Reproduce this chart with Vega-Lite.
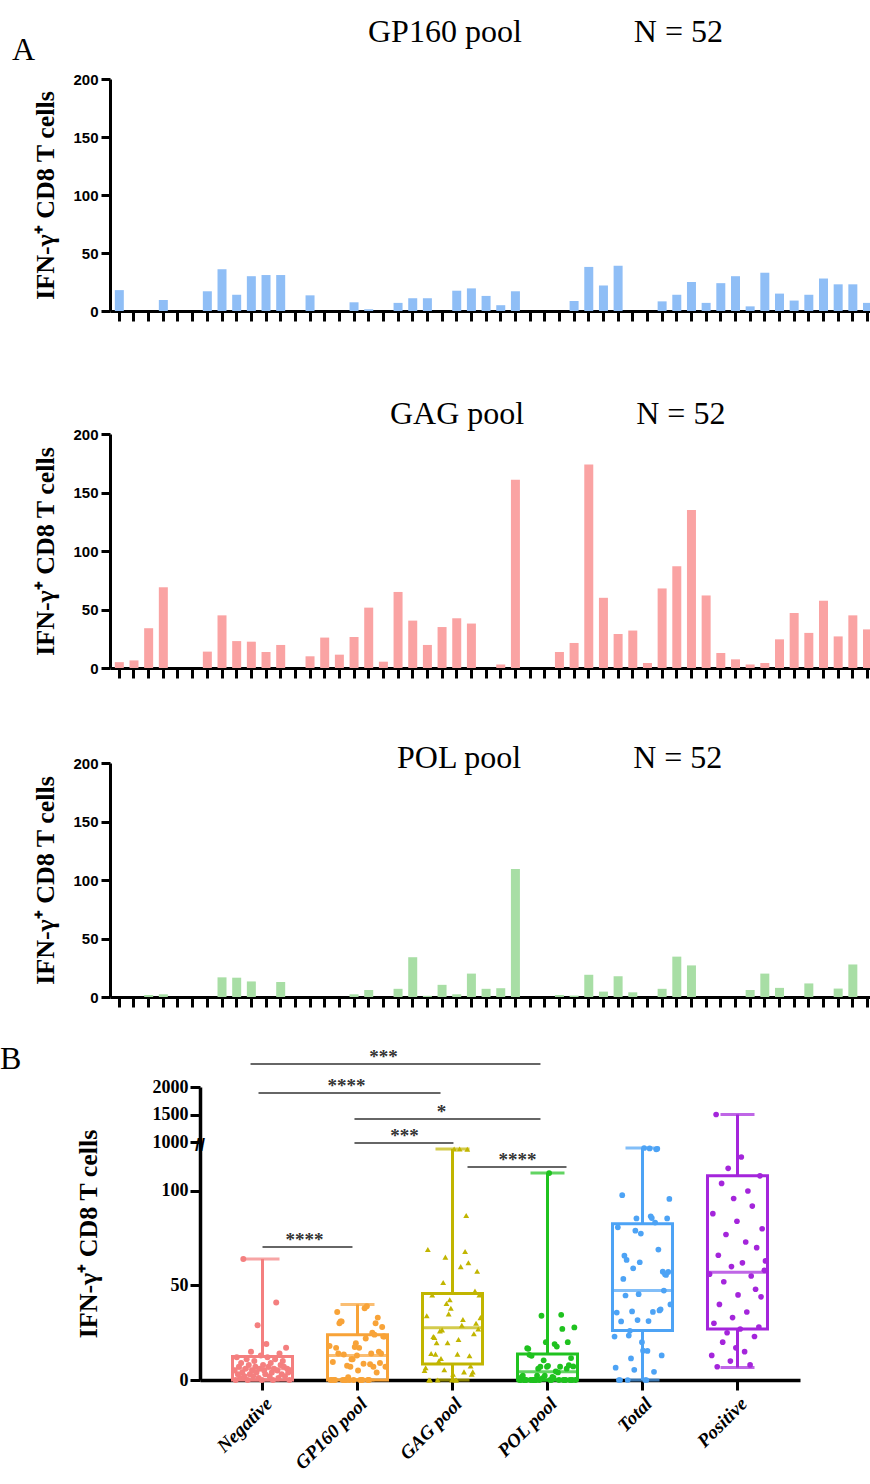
{
"$schema": "https://vega.github.io/schema/vega-lite/v6.json",
"padding": 0,
"background": "white",
"title": {"text": "A", "anchor": "start", "frame": "bounds", "dx": 12, "offset": -92, "baseline": "alphabetic", "font": "Liberation Serif", "fontSize": 32, "fontWeight": "normal", "color": "black"},
"datasets": {
"wide": [
{"id":1,"Negative":5,"GP160 pool":18,"GAG pool":5,"POL pool":0,"Total":23,"Positive":56},
{"id":2,"Negative":0,"GP160 pool":0,"GAG pool":6.5,"POL pool":0,"Total":6.5},
{"id":3,"Negative":12,"GP160 pool":0,"GAG pool":34,"POL pool":1.7,"Total":35.7,"Positive":13},
{"id":4,"Negative":3,"GP160 pool":9.5,"GAG pool":69,"POL pool":2.3,"Total":80.8,"Positive":88},
{"id":5,"Negative":7,"GP160 pool":0,"GAG pool":0,"POL pool":0,"Total":0,"Positive":30},
{"id":6,"Negative":1,"GP160 pool":0,"GAG pool":0,"POL pool":0,"Total":0},
{"id":7,"Negative":9,"GP160 pool":17,"GAG pool":14,"POL pool":0,"Total":31,"Positive":1500},
{"id":8,"Negative":4,"GP160 pool":36,"GAG pool":45,"POL pool":16.8,"Total":97.8,"Positive":7},
{"id":9,"Negative":64,"GP160 pool":14,"GAG pool":23,"POL pool":16.5,"Total":53.5,"Positive":66},
{"id":10,"Negative":2,"GP160 pool":30,"GAG pool":22.5,"POL pool":13.3,"Total":65.8,"Positive":40},
{"id":11,"Negative":6,"GP160 pool":31,"GAG pool":13.7,"POL pool":0,"Total":44.7},
{"id":12,"Negative":11,"GP160 pool":31,"GAG pool":19.7,"POL pool":12.8,"Total":63.5,"Positive":104},
{"id":13,"Negative":0,"GP160 pool":0,"GAG pool":0,"POL pool":0,"Total":0,"Positive":20},
{"id":14,"Negative":8,"GP160 pool":13.5,"GAG pool":10,"POL pool":0,"Total":23.5,"Positive":52},
{"id":15,"Negative":3,"GP160 pool":0,"GAG pool":26,"POL pool":0,"Total":26},
{"id":16,"Negative":15,"GP160 pool":0,"GAG pool":11.4,"POL pool":0,"Total":11.4,"Positive":77},
{"id":17,"Negative":5,"GP160 pool":7.5,"GAG pool":26.5,"POL pool":2.3,"Total":36.3,"Positive":25},
{"id":18,"Negative":2,"GP160 pool":1.5,"GAG pool":51.6,"POL pool":6,"Total":59.1,"Positive":112},
{"id":19,"Negative":10,"GP160 pool":0,"GAG pool":5.4,"POL pool":0,"Total":5.4},
{"id":20,"Negative":7,"GP160 pool":7,"GAG pool":65,"POL pool":7,"Total":79,"Positive":10},
{"id":21,"Negative":4,"GP160 pool":11,"GAG pool":40.5,"POL pool":34,"Total":85.5,"Positive":60},
{"id":22,"Negative":29,"GP160 pool":11,"GAG pool":19.7,"POL pool":1,"Total":31.7,"Positive":33},
{"id":23,"Negative":1,"GP160 pool":0,"GAG pool":35,"POL pool":10.4,"Total":45.4,"Positive":96},
{"id":24,"Negative":6,"GP160 pool":17.5,"GAG pool":42.5,"POL pool":2.3,"Total":62.3},
{"id":25,"Negative":13,"GP160 pool":19.5,"GAG pool":38,"POL pool":20,"Total":77.5,"Positive":17},
{"id":26,"Negative":0,"GP160 pool":13,"GAG pool":0,"POL pool":7,"Total":20,"Positive":84},
{"id":27,"Negative":8,"GP160 pool":5,"GAG pool":3,"POL pool":7.5,"Total":15.5,"Positive":45},
{"id":28,"Negative":5,"GP160 pool":17,"GAG pool":161,"POL pool":109.5,"Total":287.5},
{"id":29,"Negative":3,"GP160 pool":0,"GAG pool":0,"POL pool":0,"Total":0,"Positive":27},
{"id":30,"Negative":19,"GP160 pool":0,"GAG pool":0,"POL pool":0,"Total":0,"Positive":118},
{"id":31,"Negative":12,"GP160 pool":0,"GAG pool":13.7,"POL pool":1.7,"Total":15.4,"Positive":62},
{"id":32,"Negative":7,"GP160 pool":8.6,"GAG pool":21.4,"POL pool":1.2,"Total":31.2},
{"id":33,"Negative":2,"GP160 pool":38,"GAG pool":174,"POL pool":19,"Total":231,"Positive":15},
{"id":34,"Negative":9,"GP160 pool":22,"GAG pool":60,"POL pool":4.6,"Total":86.6,"Positive":73},
{"id":35,"Negative":4,"GP160 pool":39,"GAG pool":29,"POL pool":17.7,"Total":85.7,"Positive":36},
{"id":36,"Negative":0,"GP160 pool":0,"GAG pool":32,"POL pool":4,"Total":36,"Positive":100},
{"id":37,"Negative":6,"GP160 pool":0,"GAG pool":4.3,"POL pool":0,"Total":4.3},
{"id":38,"Negative":11,"GP160 pool":8.3,"GAG pool":68,"POL pool":7,"Total":83.3,"Positive":8},
{"id":39,"Negative":41,"GP160 pool":14,"GAG pool":87,"POL pool":34.5,"Total":135.5,"Positive":55},
{"id":40,"Negative":5,"GP160 pool":25,"GAG pool":135,"POL pool":27,"Total":187,"Positive":92},
{"id":41,"Negative":1,"GP160 pool":7,"GAG pool":62,"POL pool":0,"Total":69},
{"id":42,"Negative":14,"GP160 pool":24,"GAG pool":12.8,"POL pool":0,"Total":36.8,"Positive":23},
{"id":43,"Negative":8,"GP160 pool":30,"GAG pool":7.4,"POL pool":0,"Total":37.4,"Positive":48},
{"id":44,"Negative":3,"GP160 pool":4,"GAG pool":3,"POL pool":6,"Total":13,"Positive":70},
{"id":45,"Negative":10,"GP160 pool":33,"GAG pool":4.3,"POL pool":20,"Total":57.3},
{"id":46,"Negative":7,"GP160 pool":15,"GAG pool":24.5,"POL pool":7.8,"Total":47.3,"Positive":28},
{"id":47,"Negative":2,"GP160 pool":9,"GAG pool":47,"POL pool":0,"Total":56,"Positive":108},
{"id":48,"Negative":17,"GP160 pool":14,"GAG pool":30,"POL pool":11.6,"Total":55.6,"Positive":44},
{"id":49,"Negative":6,"GP160 pool":28,"GAG pool":57.5,"POL pool":0,"Total":85.5,"Positive":80},
{"id":50,"Negative":4,"GP160 pool":23,"GAG pool":27,"POL pool":7.2,"Total":57.2},
{"id":51,"Negative":0,"GP160 pool":23,"GAG pool":45,"POL pool":27.8,"Total":95.8,"Positive":58},
{"id":52,"Negative":5,"GP160 pool":7,"GAG pool":33,"POL pool":0,"Total":40,"Positive":63}
],
"box": [
{"g":"Negative","lo":0,"q1":0,"med":6,"q3":12.4,"hi":64},
{"g":"GP160 pool","lo":0,"q1":0,"med":13,"q3":24,"hi":40},
{"g":"GAG pool","lo":0,"q1":8.5,"med":27.7,"q3":45.7,"hi":174},
{"g":"POL pool","lo":0,"q1":0,"med":4.4,"q3":13.8,"hi":109.5},
{"g":"Total","lo":0,"q1":26.2,"med":47.3,"q3":82.6,"hi":287.5},
{"g":"Positive","lo":6.6,"q1":27,"med":57,"q3":108,"hi":1500}
],
"sig": [
{"a":-0.126,"b":2.926,"y":2418,"m":1.274,"t":"***"},
{"a":-0.042,"b":1.874,"y":1891,"m":0.884,"t":"****"},
{"a":0.968,"b":2.926,"y":1418,"m":1.884,"t":"*"},
{"a":0.968,"b":2.01,"y":881,"m":1.495,"t":"***"},
{"a":2.158,"b":3.2,"y":112.7,"m":2.684,"t":"****"},
{"a":0,"b":0.947,"y":70.4,"m":0.442,"t":"****"}
]
},
"data": {"name": "wide"},
"spacing": 20,
"bounds": "flush",
"center": true,
"vconcat": [
{
"width": 780, "height": 311,
"title": {"text": "GP160 pool\u2003\u2003\u2003\u2002N = 52", "anchor": "start", "frame": "group", "dx": 258, "offset": -74, "baseline": "alphabetic", "font": "Liberation Serif", "fontSize": 32, "fontWeight": "normal", "color": "black"},
"mark": {"type": "bar", "color": "#8FBEF6", "width": 9},
"encoding": {
"x": {"field": "id", "type": "ordinal", "scale": {"paddingInner": 0.38, "paddingOuter": 0.774, "align": 0.21}, "axis": {"labels": false, "title": null, "tickSize": 10}},
"y": {"field": "GP160 pool", "type": "quantitative", "scale": {"domain": [0, 200], "range": [311, 79], "nice": false}, "axis": {"values": [0, 50, 100, 150, 200], "title": "IFN-\u03b3\u207a CD8 T cells", "titleFont": "Liberation Serif", "titleFontSize": 26, "titleFontWeight": "bold", "titlePadding": 14, "labelFont": "Liberation Sans", "labelFontSize": 15, "labelFontWeight": "bold", "tickSize": 9, "labelPadding": 3}}
}
},
{
"width": 780, "height": 337,
"title": {"text": "GAG pool\u2003\u2003\u2003\u2002N = 52", "anchor": "start", "frame": "group", "dx": 280, "offset": -125, "baseline": "alphabetic", "font": "Liberation Serif", "fontSize": 32, "fontWeight": "normal", "color": "black"},
"mark": {"type": "bar", "color": "#FAA3A3", "width": 9},
"encoding": {
"x": {"field": "id", "type": "ordinal", "scale": {"paddingInner": 0.38, "paddingOuter": 0.774, "align": 0.21}, "axis": {"labels": false, "title": null, "tickSize": 10}},
"y": {"field": "GAG pool", "type": "quantitative", "scale": {"domain": [0, 200], "range": [337, 103], "nice": false}, "axis": {"values": [0, 50, 100, 150, 200], "title": "IFN-\u03b3\u207a CD8 T cells", "titleFont": "Liberation Serif", "titleFontSize": 26, "titleFontWeight": "bold", "titlePadding": 14, "labelFont": "Liberation Sans", "labelFontSize": 15, "labelFontWeight": "bold", "tickSize": 9, "labelPadding": 3}}
}
},
{
"width": 780, "height": 309,
"title": {"text": "POL pool\u2003\u2003\u2003\u2002N = 52", "anchor": "start", "frame": "group", "dx": 287, "offset": -112, "baseline": "alphabetic", "font": "Liberation Serif", "fontSize": 32, "fontWeight": "normal", "color": "black"},
"mark": {"type": "bar", "color": "#A8DEA5", "width": 9},
"encoding": {
"x": {"field": "id", "type": "ordinal", "scale": {"paddingInner": 0.38, "paddingOuter": 0.774, "align": 0.21}, "axis": {"labels": false, "title": null, "tickSize": 10}},
"y": {"field": "POL pool", "type": "quantitative", "scale": {"domain": [0, 200], "range": [309, 75], "nice": false}, "axis": {"values": [0, 50, 100, 150, 200], "title": "IFN-\u03b3\u207a CD8 T cells", "titleFont": "Liberation Serif", "titleFontSize": 26, "titleFontWeight": "bold", "titlePadding": 14, "labelFont": "Liberation Sans", "labelFontSize": 15, "labelFontWeight": "bold", "tickSize": 9, "labelPadding": 3}}
}
},
{
"width": 600, "height": 363,
"title": {"text": "B", "anchor": "start", "frame": "group", "dx": -200, "offset": -84, "baseline": "alphabetic", "font": "Liberation Serif", "fontSize": 32, "fontWeight": "normal", "color": "black"},
"layer": [
{
"data": {"name": "box"},
"layer": [
{"mark": {"type": "rule", "strokeWidth": 3},
 "encoding": {
 "x": {"field": "g", "type": "nominal", "scale": {"domain": ["Negative","GP160 pool","GAG pool","POL pool","Total","Positive"], "paddingInner": 0.4, "paddingOuter": 0.358}, "axis": {"title": null, "labelAngle": -45, "labelAlign": "right", "labelBaseline": "top", "labelFont": "Liberation Serif", "labelFontSize": 19, "labelFontWeight": "bold", "labelFontStyle": "italic", "tickSize": 10, "domainWidth": 3.5, "labelPadding": 4}},
 "y": {"field": "lo", "type": "quantitative", "scale": {"domain": [0, 122, 1000, 2000], "range": [363, 132.4, 125, 70], "nice": false, "zero": false}, "axis": {"values": [0, 50, 100, 1000, 1500, 2000], "format": "d", "title": "IFN-\u03b3\u207a CD8 T cells", "titleFont": "Liberation Serif", "titleFontSize": 26, "titleFontWeight": "bold", "titlePadding": 51, "labelFont": "Liberation Serif", "labelFontSize": 18, "labelFontWeight": "bold", "tickSize": 10, "domainWidth": 3.5, "labelOverlap": false}},
 "y2": {"field": "q1"},
 "color": {"field": "g", "type": "nominal", "scale": {"domain": ["Negative","GP160 pool","GAG pool","POL pool","Total","Positive"], "range": ["#F47F7F","#F8A338","#C1B500","#1FC21F","#4DA3F5","#A425DB"]}, "legend": null}
 }},
{"mark": {"type": "rule", "strokeWidth": 3},
 "encoding": {
 "x": {"field": "g", "type": "nominal"},
 "y": {"field": "q3", "type": "quantitative", "title": "IFN-\u03b3\u207a CD8 T cells"},
 "y2": {"field": "hi"},
 "color": {"field": "g", "type": "nominal", "legend": null}
 }},
{"mark": {"type": "tick", "thickness": 3, "size": 34},
 "encoding": {
 "x": {"field": "g", "type": "nominal"},
 "y": {"field": "hi", "type": "quantitative", "title": "IFN-\u03b3\u207a CD8 T cells"},
 "color": {"field": "g", "type": "nominal", "legend": null}
 }},
{"mark": {"type": "tick", "thickness": 3, "size": 34},
 "encoding": {
 "x": {"field": "g", "type": "nominal"},
 "y": {"field": "lo", "type": "quantitative", "title": "IFN-\u03b3\u207a CD8 T cells"},
 "color": {"field": "g", "type": "nominal", "legend": null}
 }},
{"mark": {"type": "bar", "filled": false, "strokeWidth": 3, "width": 60},
 "encoding": {
 "x": {"field": "g", "type": "nominal"},
 "y": {"field": "q1", "type": "quantitative", "title": "IFN-\u03b3\u207a CD8 T cells"},
 "y2": {"field": "q3"},
 "color": {"field": "g", "type": "nominal", "legend": null}
 }},
{"mark": {"type": "tick", "thickness": 3, "size": 60},
 "encoding": {
 "x": {"field": "g", "type": "nominal"},
 "y": {"field": "med", "type": "quantitative", "title": "IFN-\u03b3\u207a CD8 T cells"},
 "color": {"field": "g", "type": "nominal", "legend": null}
 }},
{"data": {"name": "wide"},
 "transform": [{"fold": ["Negative","GP160 pool","GAG pool","POL pool","Total","Positive"], "as": ["g","v"]}, {"filter": "isValid(datum.v)"}],
 "mark": {"type": "point", "filled": true, "opacity": 1},
 "encoding": {
 "x": {"field": "g", "type": "nominal"},
 "xOffset": {"field": "id", "type": "ordinal"},
 "y": {"field": "v", "type": "quantitative", "title": "IFN-\u03b3\u207a CD8 T cells"},
 "color": {"field": "g", "type": "nominal", "legend": null},
 "shape": {"field": "g", "type": "nominal", "scale": {"domain": ["Negative","GP160 pool","GAG pool","POL pool","Total","Positive"], "range": ["circle","circle","triangle-up","circle","circle","circle"]}, "legend": null},
 "size": {"field": "g", "type": "nominal", "scale": {"domain": ["Negative","GP160 pool","GAG pool","POL pool","Total","Positive"], "range": [36, 32, 50, 28, 18, 18]}, "legend": null}
 }}
]
},
{
"data": {"name": "sig"},
"layer": [
{"mark": {"type": "rule", "strokeWidth": 1.5, "color": "#333333"},
 "encoding": {
 "x": {"field": "a", "type": "quantitative", "scale": {"domain": [-0.658, 5.658], "nice": false, "zero": false}, "axis": null},
 "x2": {"field": "b"},
 "y": {"field": "y", "type": "quantitative", "title": "IFN-\u03b3\u207a CD8 T cells"}
 }},
{"mark": {"type": "text", "font": "Liberation Serif", "fontSize": 19, "fontWeight": "bold", "baseline": "alphabetic", "dy": -1, "color": "#333333"},
 "encoding": {
 "x": {"field": "m", "type": "quantitative", "axis": null},
 "y": {"field": "y", "type": "quantitative", "title": "IFN-\u03b3\u207a CD8 T cells"},
 "text": {"field": "t"}
 }},
{"data": {"values": [{"m": -0.658, "y": 560, "t": "//"}]},
 "mark": {"type": "text", "font": "Liberation Sans", "fontSize": 18, "fontWeight": "bold", "baseline": "middle", "color": "black"},
 "encoding": {
 "x": {"field": "m", "type": "quantitative", "axis": null},
 "y": {"field": "y", "type": "quantitative", "title": "IFN-\u03b3\u207a CD8 T cells"},
 "text": {"field": "t"}
 }}
]
}
],
"resolve": {"scale": {"x": "independent"}}
}
],
"config": {
"view": {"stroke": null},
"axis": {"domainColor": "black", "tickColor": "black", "labelColor": "black", "titleColor": "black", "grid": false, "domainWidth": 3, "tickWidth": 3},
"title": {"color": "black"}
}
}
